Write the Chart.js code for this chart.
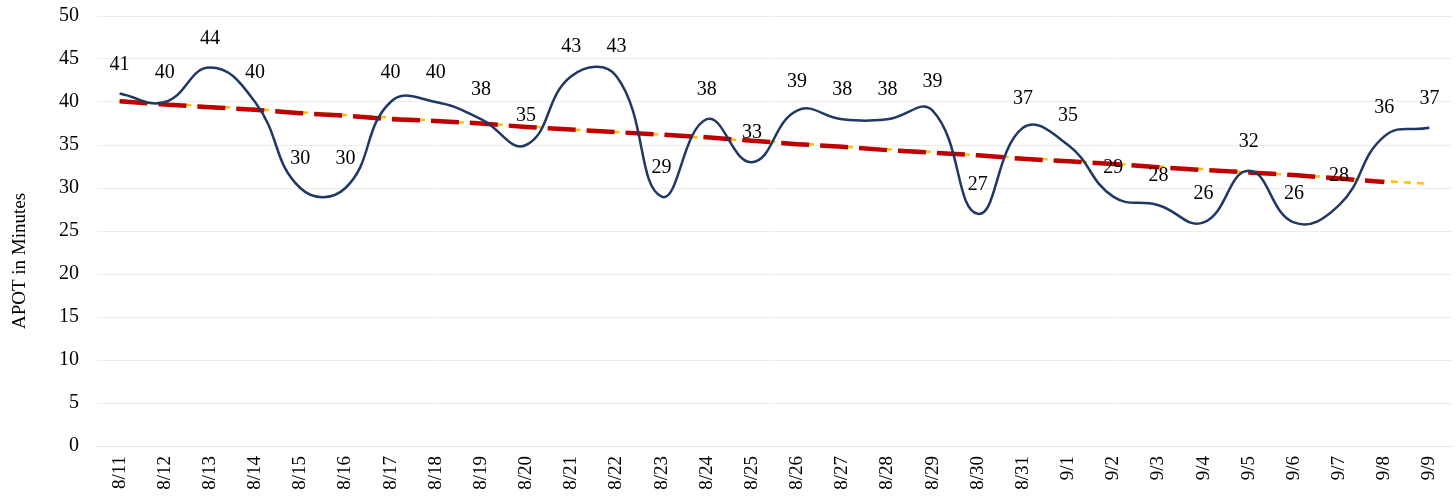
<!DOCTYPE html>
<html>
<head>
<meta charset="utf-8">
<script src="https://cdn.jsdelivr.net/npm/chart.js@4"></script>
<style>
  html, body { margin: 0; padding: 0; background: #fff; }
  #wrap { width: 1456px; height: 498px; }
</style>
</head>
<body>
<div id="wrap"><canvas id="apotChart" width="1456" height="498"></canvas></div>
<script>
// 数据
const days = ['8/11','8/12','8/13','8/14','8/15','8/16','8/17','8/18','8/19','8/20',
  '8/21','8/22','8/23','8/24','8/25','8/26','8/27','8/28','8/29','8/30',
  '8/31','9/1','9/2','9/3','9/4','9/5','9/6','9/7','9/8','9/9'];
const apot = [41,40,44,40,30,30,40,40,38,35,43,43,29,38,33,39,38,38,39,27,37,35,29,28,26,32,26,28,36,37];
// 红色虚线（到 9/8 为止）
const redTrend = [40.1,39.7,39.4,39.1,38.7,38.4,38.0,37.8,37.5,37.1,36.8,36.5,36.2,35.9,35.5,
  35.1,34.8,34.4,34.1,33.8,33.4,33.1,32.8,32.4,32.1,31.8,31.5,31.1,30.7,null];
// 黄色趋势线
const yellowTrend = [40.2,39.8,39.5,39.2,38.8,38.5,38.2,37.8,37.5,37.2,36.8,36.5,36.2,35.8,35.5,
  35.2,34.8,34.5,34.2,33.8,33.5,33.2,32.8,32.5,32.2,31.8,31.5,31.2,30.8,30.5];
const yTicks = [0,5,10,15,20,25,30,35,40,45,50];
const yTitle = 'APOT in Minutes';

const serif = "'Liberation Serif', 'Times New Roman', serif";

// 数据标签和纵轴标题
const valueLabels = {
  id: 'valueLabels',
  afterDatasetsDraw(chart) {
    const ctx = chart.ctx;
    const meta = chart.getDatasetMeta(2);
    ctx.save();
    ctx.font = '20px ' + serif;
    ctx.fillStyle = '#000';
    ctx.textAlign = 'center';
    ctx.textBaseline = 'middle';
    meta.data.forEach((pt, i) => {
      ctx.fillText(String(apot[i]), pt.x, pt.y - 29);
    });
    // 纵轴标题
    ctx.font = '19px ' + serif;
    ctx.translate(20, chart.height / 2 + 12);
    ctx.rotate(-Math.PI / 2);
    ctx.fillText(yTitle, 0, 0);
    ctx.restore();
  }
};

new Chart(document.getElementById('apotChart'), {
  type: 'line',
  data: {
    labels: days,
    datasets: [{
      label: 'Trend',
      data: yellowTrend,
      borderColor: '#FFC000',
      borderWidth: 2.5,
      borderDash: [7, 6],
      pointRadius: 0,
      tension: 0,
      fill: false,
      order: 3
    }, {
      label: 'Average',
      data: redTrend,
      borderColor: '#C00000',
      borderWidth: 4.5,
      borderDash: [28, 11],
      pointRadius: 0,
      tension: 0,
      fill: false,
      order: 2
    }, {
      label: 'APOT',
      data: apot,
      borderColor: '#1F3864',
      borderWidth: 2.5,
      pointRadius: 0,
      tension: 0.45,
      fill: false,
      order: 1
    }]
  },
  options: {
    responsive: false,
    animation: false,
    layout: { padding: { top: 16, right: 4, left: 0, bottom: 0 } },
    plugins: {
      legend: { display: false },
      tooltip: { enabled: false }
    },
    scales: {
      x: {
        offset: true,
        grid: { display: false, drawTicks: false },
        border: { display: true, color: '#e6e6e6' },
        ticks: {
          color: '#000',
          font: { family: serif, size: 19 },
          minRotation: 90,
          maxRotation: 90,
          autoSkip: false,
          padding: 10
        },
        afterFit(scale) {
          scale.height = 52;
          scale.paddingLeft = 0;
          scale.paddingRight = 0;
        }
      },
      y: {
        min: 0,
        max: 50,
        grid: { color: '#ececec', drawTicks: false },
        border: { display: false },
        afterBuildTicks(scale) { scale.ticks = yTicks.map(v => ({ value: v })); },
        ticks: {
          color: '#000',
          font: { family: serif, size: 20 },
          padding: 18
        },
        afterFit(scale) {
          scale.width = 97;
          scale.paddingTop = 0;
          scale.paddingBottom = 0;
        }
      }
    }
  },
  plugins: [valueLabels]
});
</script>
</body>
</html>
